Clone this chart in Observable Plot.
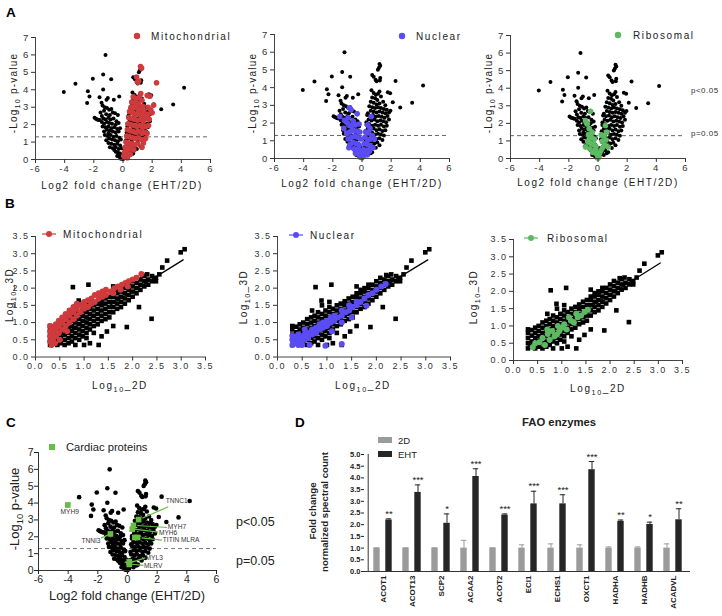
<!DOCTYPE html>
<html><head><meta charset="utf-8">
<script src="https://cdn.jsdelivr.net/npm/d3@7"></script>
<script src="https://cdn.jsdelivr.net/npm/@observablehq/plot@0.6"></script>
<style>
html,body{margin:0;padding:0;background:#fff;}
#fig{position:relative;width:722px;height:616px;overflow:hidden;background:#fff;}
#overlay{position:absolute;left:0;top:0;pointer-events:none;}
</style></head><body><div id="fig"></div>
<script>
// ---------------- DATA ----------------
// Volcano: [log2 fold change (EHT/2D), -log10 p-value] for all proteins (black)
const volcanoAll = [
 [-1.20,6.00],[-4.06,3.87],[-3.26,4.35],[-2.07,4.63],[-1.36,4.88],[-0.81,4.61],[-1.36,4.02],[-2.41,3.91],[-2.30,3.62],[-2.46,3.24],[-1.61,3.57],[-1.47,3.26],[-1.13,3.43],[-1.04,3.53],[-0.63,3.43],[-0.26,3.62],[-1.95,2.39],[-1.86,2.34],[-1.77,2.30],[-1.68,2.27],[-1.59,2.26],[-1.54,2.69],
 [1.20,5.33],[1.25,5.24],[1.16,5.12],[1.09,5.01],[0.70,4.72],[0.80,4.62],[0.93,4.44],[1.00,4.36],[1.25,4.54],[1.22,4.40],[2.30,4.38],[4.19,4.12],[1.77,3.74],[1.93,3.68],[2.11,3.17],[2.62,2.88],[3.44,3.15],[1.20,3.78],
 [-1.40,3.10],[-1.25,3.00],[-1.10,2.95],[-0.95,2.85],[-0.80,2.90],[-1.30,2.80],[-0.70,2.70],[-1.15,2.60],[-0.55,2.65],[-0.90,2.55],[-1.45,2.50],[-0.35,2.55],
 [-1.35,2.35],[-1.20,2.30],[-1.00,2.40],[-0.85,2.30],[-0.65,2.35],[-0.45,2.20],[-1.10,2.15],[-0.95,2.10],[-0.75,2.05],[-0.50,2.00],[-0.30,2.10],[-1.30,2.05],[-1.45,2.15],
 [-1.40,1.90],[-1.20,1.85],[-1.00,1.90],[-0.80,1.80],[-0.60,1.85],[-0.40,1.75],[-0.20,1.80],[-1.10,1.70],[-0.90,1.65],[-0.70,1.60],[-0.50,1.55],[-0.30,1.60],[-1.30,1.60],[-1.00,1.50],
 [-1.25,1.40],[-1.05,1.35],[-0.85,1.40],[-0.65,1.30],[-0.45,1.35],[-0.25,1.25],[-0.95,1.20],[-0.75,1.15],[-0.55,1.10],[-0.35,1.05],[-1.15,1.10],[-0.15,1.15],
 [-1.00,0.95],[-0.80,0.90],[-0.60,0.85],[-0.40,0.90],[-0.20,0.80],[-0.90,0.70],[-0.70,0.65],[-0.50,0.70],[-0.30,0.60],[-0.10,0.65],[-0.60,0.55],
 [-0.50,0.45],[-0.35,0.40],[-0.20,0.35],[-0.10,0.25],[-0.40,0.20],[-0.25,0.15],[-0.05,0.10],[-0.15,0.05],[0.00,0.02],[-0.30,0.30],
 [0.65,3.85],[0.80,3.70],[0.95,3.60],[1.10,3.65],[0.70,3.45],[0.90,3.40],[1.05,3.30],[1.30,3.50],[0.60,3.20],[0.80,3.15],[1.20,3.10],[1.45,3.20],[1.00,3.05],[1.60,3.00],
 [0.50,2.95],[0.70,2.90],[0.90,2.85],[1.10,2.90],[1.30,2.85],[1.50,2.80],[1.70,2.75],[0.60,2.70],[0.80,2.65],[1.00,2.60],[1.20,2.65],[1.40,2.60],[1.60,2.55],[1.85,2.60],[0.40,2.55],[1.95,2.70],
 [0.35,2.45],[0.55,2.40],[0.75,2.45],[0.95,2.35],[1.15,2.40],[1.35,2.35],[1.55,2.30],[1.75,2.40],[0.45,2.20],[0.65,2.15],[0.85,2.20],[1.05,2.10],[1.25,2.15],[1.45,2.10],[1.65,2.05],[1.85,2.20],[0.30,2.05],
 [0.30,1.90],[0.50,1.95],[0.70,1.85],[0.90,1.90],[1.10,1.85],[1.30,1.90],[1.50,1.80],[1.70,1.85],[0.40,1.70],[0.60,1.65],[0.80,1.70],[1.00,1.60],[1.20,1.65],[1.40,1.55],[1.60,1.60],[0.25,1.55],
 [0.30,1.45],[0.50,1.40],[0.70,1.45],[0.90,1.35],[1.10,1.40],[1.30,1.35],[1.50,1.30],[0.40,1.20],[0.60,1.15],[0.80,1.20],[1.00,1.10],[1.20,1.15],[0.20,1.10],[1.40,1.05],
 [0.25,0.95],[0.45,0.90],[0.65,0.95],[0.85,0.85],[1.05,0.90],[0.35,0.70],[0.55,0.65],[0.75,0.70],[0.95,0.60],[0.15,0.60],[1.20,0.75],
 [0.10,0.45],[0.30,0.40],[0.50,0.45],[0.70,0.35],[0.20,0.25],[0.40,0.20],[0.10,0.10],[0.60,0.30],[0.05,0.30]
];
const volcanoMito = [
 [1.20,5.33],[1.27,5.24],[0.93,4.73],[1.00,4.44],[1.08,4.50],[2.30,4.40],[1.22,3.78],[1.66,3.67],[1.84,3.63],[2.10,3.11],[2.00,2.68],[1.43,2.77],
 [0.70,3.60],[0.90,3.50],[1.10,3.55],[0.60,3.30],[0.85,3.25],[1.05,3.20],[1.30,3.40],[0.55,3.00],[0.75,3.00],[0.95,2.95],[1.15,2.90],[1.35,3.05],
 [0.45,2.75],[0.65,2.70],[0.85,2.60],[1.05,2.65],[1.25,2.55],[1.50,2.50],[0.40,2.40],[0.60,2.35],[0.80,2.30],[1.00,2.25],[1.20,2.30],[1.40,2.20],[1.60,2.35],
 [0.35,2.05],[0.55,2.00],[0.75,1.95],[0.95,1.90],[1.15,1.95],[1.35,1.85],[1.55,1.90],[0.30,1.70],[0.50,1.65],[0.70,1.60],[0.90,1.55],[1.10,1.60],[1.30,1.50],[1.50,1.55],
 [0.25,1.35],[0.45,1.30],[0.65,1.25],[0.85,1.20],[1.05,1.25],[1.25,1.15],[0.20,1.00],[0.40,0.95],[0.60,0.90],[0.80,0.85],[1.00,0.90],
 [0.15,0.70],[0.35,0.65],[0.55,0.60],[0.75,0.55],[0.10,0.40],[0.30,0.35],[0.50,0.30],[0.15,0.15],[0.30,0.10],[0.05,0.20],
 [1.70,2.60],[1.80,2.30],[1.75,1.95],[1.65,1.50],[1.55,1.20],[1.40,0.95],[1.30,0.70],[1.72,3.00],[1.90,2.85]
];
const volcanoNuclear = [
 [-0.86,2.86],[-0.75,2.75],[-1.52,2.37],[-0.33,2.52],[0.63,2.37],[-1.20,2.15],[-1.25,1.70],[-1.00,2.00],[-0.80,1.85],[-0.60,2.10],[-0.45,1.90],[-0.20,1.95],[0.40,1.90],[0.55,1.70],
 [-1.05,1.40],[-0.85,1.50],[-0.65,1.60],[-0.40,1.55],[-0.15,1.50],[0.25,1.50],[0.45,1.45],[0.70,1.30],[-0.95,1.10],[-0.70,1.20],[-0.50,1.25],[-0.30,1.20],[-0.10,1.10],[0.20,1.20],[0.40,1.05],[0.60,1.10],
 [-0.80,0.80],[-0.60,0.90],[-0.40,0.85],[-0.20,0.75],[0.15,0.85],[0.35,0.80],[0.55,0.70],[0.75,0.60],[-0.90,0.60],[-0.55,0.55],[-0.30,0.50],[-0.10,0.45],[0.10,0.50],[0.30,0.45],[0.50,0.40],
 [-0.45,0.30],[-0.25,0.25],[-0.05,0.20],[0.15,0.25],[0.35,0.20],[-0.15,0.10],[0.00,0.05],[0.08,0.12],[-0.60,1.95],[-0.95,2.30],[0.85,1.10]
];
const volcanoRibo = [
 [-0.51,2.69],[-0.86,2.16],[-0.74,1.97],[-0.80,2.05],[0.51,1.88],[0.22,1.35],[-0.60,1.70],[-0.40,1.50],[-0.65,1.35],[-0.45,1.20],[-0.25,1.10],[-0.70,0.95],[-0.50,0.85],[-0.30,0.80],
 [-0.85,0.65],[-0.55,0.55],[-0.20,0.50],[-0.35,0.35],[-0.10,0.25],[0.05,0.10],[0.00,0.02],[0.10,0.30],[0.30,0.60],[0.45,0.75],[0.30,1.00],[0.55,1.05],[0.40,1.30],[0.60,1.50],[0.20,0.45],[-0.15,0.70],[-0.60,1.10],[0.70,0.65]
];
// Scatter: [log10 2D, log10 3D]
const scatterAll = [
 [0.30,0.35],[0.30,0.50],[0.30,0.65],[0.30,0.80],[0.30,0.90],[0.38,0.40],[0.38,0.55],[0.38,0.72],[0.38,0.88],[0.45,0.35],[0.45,0.50],[0.45,0.65],[0.45,0.80],[0.45,0.95],[0.52,0.40],[0.52,0.55],[0.52,0.70],[0.52,0.85],[0.52,1.00],[0.60,0.35],[0.60,0.50],[0.60,0.65],[0.60,0.80],[0.60,0.95],[0.60,1.10],
 [0.68,0.40],[0.68,0.55],[0.68,0.70],[0.68,0.85],[0.68,1.00],[0.68,1.15],[0.75,0.45],[0.75,0.60],[0.75,0.75],[0.75,0.90],[0.75,1.05],[0.75,1.20],[0.82,0.35],[0.82,0.55],[0.82,0.70],[0.82,0.85],[0.82,1.00],[0.82,1.15],[0.82,1.30],[0.90,0.50],[0.90,0.65],[0.90,0.80],[0.90,0.95],[0.90,1.10],[0.90,1.25],[0.97,0.60],[0.97,0.75],[0.97,0.90],[0.97,1.05],[0.97,1.20],[0.97,1.35],
 [1.05,0.55],[1.05,0.70],[1.05,0.85],[1.05,1.00],[1.05,1.15],[1.05,1.30],[1.05,1.45],[1.12,0.40],[1.12,0.80],[1.12,0.95],[1.12,1.10],[1.12,1.25],[1.12,1.40],[1.20,0.70],[1.20,0.90],[1.20,1.05],[1.20,1.20],[1.20,1.35],[1.20,1.50],[1.28,0.95],[1.28,1.10],[1.28,1.25],[1.28,1.40],[1.28,1.55],[1.36,0.60],[1.36,1.05],[1.36,1.20],[1.36,1.35],[1.36,1.50],[1.36,1.62],[1.44,1.10],[1.44,1.25],[1.44,1.40],[1.44,1.55],[1.44,1.70],
 [1.52,1.15],[1.52,1.30],[1.52,1.45],[1.52,1.60],[1.52,1.75],[1.60,0.90],[1.60,1.30],[1.60,1.45],[1.60,1.60],[1.60,1.75],[1.60,1.85],[1.68,1.40],[1.68,1.55],[1.68,1.70],[1.68,1.85],[1.68,1.95],[1.76,1.45],[1.76,1.60],[1.76,1.75],[1.76,1.90],[1.76,2.00],[1.84,1.55],[1.84,1.70],[1.84,1.85],[1.84,2.00],[1.84,2.10],[1.92,1.65],[1.92,1.80],[1.92,1.95],[1.92,2.10],
 [2.00,1.75],[2.00,1.90],[2.00,2.05],[2.00,2.20],[2.08,1.85],[2.08,2.00],[2.08,2.15],[2.08,2.30],[2.16,1.95],[2.16,2.10],[2.16,2.25],[2.24,2.05],[2.24,2.20],[2.24,2.35],[2.32,2.10],[2.32,2.25],[2.40,2.20],[2.40,2.35],[2.48,2.30],[2.48,2.20],
 [2.55,2.40],[2.61,2.60],[2.71,2.80],[2.99,3.04],[3.07,3.13],[2.30,2.40],[2.20,2.38],
 [0.77,2.03],[1.09,2.10],[0.89,1.64],[1.88,0.87],[2.39,1.11],[2.13,1.45],[1.47,0.74],[1.30,0.35],[1.00,0.35],[0.70,1.35],[1.05,1.60],[1.60,2.05],[0.90,1.50]
];
const scatterMito = [
 [0.30,0.45],[0.30,0.60],[0.30,0.75],[0.30,0.90],[0.36,0.50],[0.36,0.70],[0.36,0.85],[0.42,0.60],[0.42,0.80],[0.42,0.95],[0.48,0.70],[0.48,0.90],[0.48,1.05],[0.55,0.80],[0.55,1.00],[0.55,1.15],[0.62,0.90],[0.62,1.10],[0.62,1.25],
 [0.70,1.00],[0.70,1.20],[0.70,1.35],[0.78,1.10],[0.78,1.30],[0.78,1.45],[0.85,1.20],[0.85,1.40],[0.85,1.55],[0.92,1.30],[0.92,1.50],[1.00,1.40],[1.00,1.60],[1.00,1.55],
 [1.08,1.45],[1.08,1.65],[1.15,1.55],[1.15,1.70],[1.22,1.60],[1.22,1.80],[1.30,1.70],[1.30,1.85],[1.38,1.75],[1.38,1.90],[1.45,1.80],[1.45,1.95],
 [1.55,1.90],[1.62,2.00],[1.70,2.05],[1.78,2.10],[1.85,2.15],[1.92,2.20],[2.00,2.25],[2.08,2.30],[2.18,2.41],[1.60,1.85],[1.75,1.95],[1.90,2.05],
 [0.50,0.50],[0.40,0.40],[0.65,0.75],[0.33,0.35]
];
const scatterNuclear = [
 [0.30,0.35],[0.30,0.50],[0.30,0.62],[0.36,0.40],[0.36,0.55],[0.42,0.35],[0.42,0.50],[0.42,0.65],[0.48,0.45],[0.48,0.60],[0.55,0.50],[0.55,0.65],[0.55,0.80],[0.62,0.55],[0.62,0.70],[0.70,0.65],[0.70,0.80],[0.78,0.70],[0.78,0.85],[0.85,0.80],[0.85,0.95],[0.92,0.85],[0.92,1.00],[1.00,0.90],[1.00,1.05],
 [1.08,1.00],[1.08,1.15],[1.15,1.05],[1.15,1.20],[1.22,1.15],[1.30,1.20],[1.30,1.35],[1.38,1.30],[1.45,1.35],[1.45,1.50],[1.52,1.45],[1.60,1.50],[1.60,1.60],[1.68,1.60],[1.76,1.70],[1.84,1.80],[1.92,1.85],[2.00,1.95],[2.10,2.05],[2.19,2.12],
 [1.50,1.15],[0.65,0.35],[0.97,0.33],[1.10,0.75],[1.30,1.00],[0.50,0.35],[1.30,0.38],[1.80,1.49]
];
const scatterRibo = [
 [0.40,0.38],[0.45,0.50],[0.54,0.53],[0.60,0.65],[0.71,0.77],[0.75,0.60],[0.80,0.85],[0.85,0.70],[0.92,1.00],[0.95,0.85],[1.00,0.95],[1.05,1.05],[1.10,0.90],[1.19,1.15],[1.25,1.10],[1.33,1.25],[1.40,1.30],[1.47,1.40],[1.54,1.47],[0.65,0.45],[0.70,0.90],[1.15,1.25],[0.90,0.75],[1.30,1.35]
];
const fitLine = [[0.30,0.42],[3.04,2.82]];
// Panel C: cardiac proteins
const cardiacPts = [
 {gene:"MYH9",x:-4.02,y:3.89},{gene:"TNNC1",x:0.75,y:3.02},{gene:"MYH7",x:0.40,y:2.67},{gene:"MYH6",x:0.32,y:2.45},
 {gene:"TITIN",x:0.50,y:1.96},{gene:"MLRA",x:0.68,y:1.96},{gene:"TNNI3",x:-1.15,y:2.17},{gene:"MYL3",x:0.12,y:0.52},{gene:"MLRV",x:0.12,y:0.36}
];
const cardiacLabelsCenter = [{text:"MYH9",x:-3.9,y:3.5}];
const cardiacLabelsLeft = [{text:"TNNC1",x:2.58,y:4.12},{text:"MYH7",x:2.72,y:2.6},{text:"MYH6",x:2.12,y:2.22},{text:"TITIN MLRA",x:2.38,y:1.8},{text:"MYL3",x:1.22,y:0.75},{text:"MLRV",x:1.12,y:0.28}];
const cardiacLabelsRight = [{text:"TNNI3",x:-1.82,y:1.78}];
const cardiacLinks = [
 {x1:0.99,y1:3.10,x2:2.75,y2:3.78},{x1:0.65,y1:2.67,x2:2.67,y2:2.55},{x1:0.43,y1:2.45,x2:2.08,y2:2.28},
 {x1:0.95,y1:1.94,x2:2.32,y2:1.80},{x1:-1.78,y1:1.92,x2:-1.15,y2:2.17},{x1:0.30,y1:0.50,x2:1.20,y2:0.75},{x1:0.30,y1:0.37,x2:1.08,y2:0.30}
];
// Panel D: FAO enzymes
const faoEnzymes = ["ACOT1","ACOT13","SCP2","ACAA2","ACOT2","ECI1","ECHS1","OXCT1","HADHA","HADHB","ACADVL"];
const fao2DMean = [1,1,1,1,1,1,1,1,1,1,1];
const fao2DErr  = [0.01,0.01,0.01,0.33,0.01,0.14,0.18,0.14,0.05,0.05,0.18];
const faoEHTMean = [2.20,3.38,2.06,4.06,2.41,2.89,2.89,4.35,2.14,2.01,2.21];
const faoEHTErr  = [0.05,0.32,0.40,0.33,0.05,0.54,0.39,0.35,0.06,0.10,0.47];
const faoStars = ["**","***","*","***","***","***","***","***","**","*","**"];
// ticks
const volcanoXTicks = [-6,-4,-2,0,2,4,6];
const volcanoYTicks = [0,1,2,3,4,5,6,7];
const scatterTicks = [0,0.5,1,1.5,2,2.5,3,3.5];
const faoYTicks = [0,0.5,1,1.5,2,2.5,3,3.5,4,4.5,5];

// ---------------- DRAW ----------------
const FONT = '"Liberation Sans", Arial, Helvetica, sans-serif';
const RED = "#cf3a3c", BLUE = "#5a4cf2", GREEN = "#5dba62", GREENC = "#67bd45", GRAY2D = "#9b9b9b", DARK = "#262626";
const fig = document.getElementById("fig");
function place(el, left, top) {
  el.style.position = "absolute"; el.style.left = left + "px"; el.style.top = top + "px";
  fig.appendChild(el);
}
const X = d => d[0], Y = d => d[1];

function volcano(g, overlay, color) {
  const el = Plot.plot({
    width: g.width, height: g.height, marginLeft: g.ml, marginRight: g.mr, marginTop: g.mt, marginBottom: g.mb,
    x: {domain: [-6, 6]}, y: {domain: [0, 7]},
    style: `font-family:${FONT};font-size:9.5px;letter-spacing:1.2px;color:#333;background:transparent;overflow:visible;`,
    marks: [
      Plot.ruleY([1.3], {stroke: "#666", strokeDasharray: "4,3", strokeWidth: 1}),
      Plot.dot(volcanoAll, {x: X, y: Y, r: 2, fill: "#000"}),
      Plot.dot(overlay, {x: X, y: Y, r: 2.8, fill: color}),
      Plot.ruleX([-6], {stroke: "#444"}),
      Plot.ruleY([0], {stroke: "#444"}),
      Plot.axisX({ticks: volcanoXTicks, tickFormat: d => String(d), tickSize: 4, tickPadding: 2, label: null}),
      Plot.axisY({ticks: volcanoYTicks, tickFormat: d => String(d), tickSize: 4, tickPadding: 2, label: null})
    ]
  });
  place(el, g.left, g.top);
}
volcano({left: 0, top: 0, width: 240, height: 180, ml: 35, mr: 30, mt: 37, mb: 21}, volcanoMito, RED);
volcano({left: 240, top: 0, width: 240, height: 180, ml: 34, mr: 31, mt: 34, mb: 22}, volcanoNuclear, BLUE);
volcano({left: 470, top: 0, width: 252, height: 180, ml: 40, mr: 37, mt: 35, mb: 22}, volcanoRibo, GREEN);

function scatter(g, overlay, color) {
  const el = Plot.plot({
    width: g.width, height: g.height, marginLeft: g.ml, marginRight: g.mr, marginTop: g.mt, marginBottom: g.mb,
    x: {domain: [0, 3.5]}, y: {domain: [0, 3.5]},
    style: `font-family:${FONT};font-size:9px;letter-spacing:1.5px;color:#333;background:transparent;overflow:visible;`,
    marks: [
      Plot.dot(scatterAll, {x: X, y: Y, symbol: "square", r: 2.6, fill: "#000"}),
      Plot.line(fitLine, {x: X, y: Y, stroke: "#000", strokeWidth: 1.3}),
      Plot.dot(overlay, {x: X, y: Y, r: 3, fill: color}),
      Plot.ruleX([0], {stroke: "#444"}),
      Plot.ruleY([0], {stroke: "#444"}),
      Plot.axisX({ticks: scatterTicks, tickFormat: d3.format(".1f"), tickSize: 4, tickPadding: 2, label: null}),
      Plot.axisY({ticks: scatterTicks, tickFormat: d3.format(".1f"), tickSize: 4, tickPadding: 2, label: null})
    ]
  });
  place(el, g.left, g.top);
}
scatter({left: 0, top: 220, width: 230, height: 160, ml: 35, mr: 25, mt: 16, mb: 23.5}, scatterMito, RED);
scatter({left: 240, top: 220, width: 230, height: 160, ml: 37, mr: 20, mt: 16, mb: 23.5}, scatterNuclear, BLUE);
scatter({left: 470, top: 220, width: 252, height: 160, ml: 43, mr: 40, mt: 19, mb: 20}, scatterRibo, GREEN);

// Panel C
{
  const el = Plot.plot({
    width: 240, height: 200, marginLeft: 38, marginRight: 24, marginTop: 52, marginBottom: 30,
    x: {domain: [-6, 6]}, y: {domain: [0, 7]},
    style: `font-family:${FONT};font-size:10.5px;color:#222;background:transparent;overflow:visible;`,
    marks: [
      Plot.ruleY([1.3], {stroke: "#777", strokeDasharray: "4,3"}),
      Plot.dot(volcanoAll, {x: X, y: Y, r: 2.3, fill: "#000"}),
      Plot.link(cardiacLinks, {x1: "x1", y1: "y1", x2: "x2", y2: "y2", stroke: GREENC, strokeWidth: 1.2}),
      Plot.dot(cardiacPts, {x: "x", y: "y", symbol: "square", r: 3.2, fill: GREENC}),
      Plot.text(cardiacLabelsCenter, {x: "x", y: "y", text: "text", textAnchor: "middle", fontSize: 6.6, fill: "#333"}),
      Plot.text(cardiacLabelsLeft, {x: "x", y: "y", text: "text", textAnchor: "start", fontSize: 6.6, fill: "#333"}),
      Plot.text(cardiacLabelsRight, {x: "x", y: "y", text: "text", textAnchor: "end", fontSize: 6.6, fill: "#333"}),
      Plot.ruleX([-6], {stroke: "#333"}),
      Plot.ruleY([0], {stroke: "#333"}),
      Plot.axisX({ticks: volcanoXTicks, tickFormat: d => String(d), tickSize: 4, tickPadding: 1, label: null}),
      Plot.axisY({ticks: volcanoYTicks, tickFormat: d => String(d), tickSize: 4, tickPadding: 1, label: null})
    ]
  });
  place(el, 0, 400);
}

// Panel D
{
  const rows = faoEnzymes.map((g, i) => ({gene: g, m2: fao2DMean[i], e2: fao2DErr[i], m3: faoEHTMean[i], e3: faoEHTErr[i], star: faoStars[i]}));
  const inset = 11.3, capInset = 11.8;
  const el = Plot.plot({
    width: 400, height: 186, marginLeft: 64, marginRight: 10, marginTop: 24, marginBottom: 45,
    x: {type: "band", domain: faoEnzymes, paddingInner: 0, paddingOuter: 0},
    y: {domain: [0, 5]},
    style: `font-family:${FONT};font-size:7.5px;font-weight:bold;color:#222;background:transparent;overflow:visible;`,
    marks: [
      Plot.ruleX(rows, {x: "gene", y1: "m2", y2: d => d.m2 + d.e2, dx: -6, stroke: GRAY2D}),
      Plot.tickY(rows, {x: "gene", y: d => d.m2 + d.e2, dx: -6, stroke: GRAY2D, insetLeft: capInset, insetRight: capInset}),
      Plot.barY(rows, {x: "gene", y: "m2", dx: -6, fill: GRAY2D, insetLeft: inset, insetRight: inset}),
      Plot.ruleX(rows, {x: "gene", y1: "m3", y2: d => d.m3 + d.e3, dx: 6, stroke: DARK}),
      Plot.tickY(rows, {x: "gene", y: d => d.m3 + d.e3, dx: 6, stroke: DARK, insetLeft: capInset, insetRight: capInset}),
      Plot.barY(rows, {x: "gene", y: "m3", dx: 6, fill: DARK, insetLeft: inset, insetRight: inset}),
      Plot.text(rows, {x: "gene", y: d => d.m3 + d.e3, text: "star", dx: 6, dy: -2, lineAnchor: "bottom", fontSize: 9.5, fontWeight: "normal"}),
      Plot.ruleY([0], {stroke: "#333"}),
      Plot.ruleX([faoEnzymes[0]], {dx: -14.8, stroke: "#333"}),
      Plot.axisY({ticks: faoYTicks, tickFormat: d3.format(".1f"), tickSize: 3, tickPadding: 1, label: null}),
      Plot.axisX({tickRotate: -90, tickSize: 0, tickPadding: 4, label: null, fontSize: 8})
    ]
  });
  place(el, 300, 430);
}

// ---------------- TEXT OVERLAY ----------------
const ov = d3.select(fig).append("svg").attr("id", "overlay").attr("width", 722).attr("height", 616)
  .attr("font-family", FONT);
function addText(x, y, parts, o = {}) {
  const size = o.size ?? 10;
  const t = ov.append("text").attr("x", x).attr("y", y)
    .attr("font-size", size).attr("font-weight", o.weight ?? "normal")
    .attr("text-anchor", o.anchor ?? "start").attr("letter-spacing", o.ls ?? 0)
    .attr("fill", o.fill ?? "#222");
  if (o.rotate) t.attr("transform", `rotate(${o.rotate} ${x} ${y})`);
  if (typeof parts === "string") parts = [[parts, false]];
  let shifted = false;
  for (const [s, sub] of parts) {
    const ts = t.append("tspan").text(s);
    if (sub) { ts.attr("font-size", size * 0.72).attr("dy", size * 0.28); shifted = true; }
    else if (shifted) { ts.attr("dy", -size * 0.28); shifted = false; }
  }
}
const logP = [["-Log", false], ["10", true], [" p-value", false]];
const log3D = [["Log", false], ["10", true], ["_3D", false]];
const log2D = [["Log", false], ["10", true], ["_2D", false]];
const fcLabel = "Log2 fold change (EHT/2D)";

// Panel letters
addText(6, 17, "A", {size: 13.5, weight: "bold", fill: "#000"});
addText(5, 208, "B", {size: 13.5, weight: "bold", fill: "#000"});
addText(6, 427, "C", {size: 13.5, weight: "bold", fill: "#000"});
addText(295, 427, "D", {size: 13.5, weight: "bold", fill: "#000"});

// A
addText(17, 93, logP, {size: 10, ls: 1.2, anchor: "middle", rotate: -90});
addText(256, 93, logP, {size: 10, ls: 1.2, anchor: "middle", rotate: -90});
addText(492, 93, logP, {size: 10, ls: 1.2, anchor: "middle", rotate: -90});
addText(122, 189, fcLabel, {size: 10, ls: 1.6, anchor: "middle"});
addText(362, 187, fcLabel, {size: 10, ls: 1.6, anchor: "middle"});
addText(598, 186, fcLabel, {size: 10, ls: 1.6, anchor: "middle"});
ov.append("circle").attr("cx", 137).attr("cy", 36).attr("r", 3.2).attr("fill", RED);
addText(151, 40, "Mitochondrial", {size: 10, ls: 1.6});
ov.append("circle").attr("cx", 402).attr("cy", 36).attr("r", 3.2).attr("fill", BLUE);
addText(416, 40, "Nuclear", {size: 10, ls: 1.6});
ov.append("circle").attr("cx", 618).attr("cy", 35).attr("r", 3.2).attr("fill", GREEN);
addText(633, 39, "Ribosomal", {size: 10, ls: 1.6});
addText(691, 93, "p<0.05", {size: 8, ls: 0.5, fill: "#333"});
addText(691, 136, "p=0.05", {size: 8, ls: 0.5, fill: "#333"});

// B
addText(13, 295, log3D, {size: 10, ls: 1.4, anchor: "middle", rotate: -90});
addText(247, 297, log3D, {size: 10, ls: 1.4, anchor: "middle", rotate: -90});
addText(477, 297, log3D, {size: 10, ls: 1.4, anchor: "middle", rotate: -90});
addText(120, 389, log2D, {size: 10, ls: 1.6, anchor: "middle"});
addText(363, 389, log2D, {size: 10, ls: 1.6, anchor: "middle"});
addText(598, 392, log2D, {size: 10, ls: 1.6, anchor: "middle"});
function lineLegend(x1, x2, y, color, label, tx) {
  ov.append("line").attr("x1", x1).attr("x2", x2).attr("y1", y).attr("y2", y).attr("stroke", color).attr("stroke-width", 1.2);
  ov.append("circle").attr("cx", (x1 + x2) / 2).attr("cy", y).attr("r", 3).attr("fill", color);
  addText(tx, y + 4, label, {size: 10, ls: 1.6});
}
lineLegend(42, 56, 234, RED, "Mitochondrial", 63);
lineLegend(289, 303, 235, BLUE, "Nuclear", 310);
lineLegend(524, 538, 238, GREEN, "Ribosomal", 547);

// C
ov.append("rect").attr("x", 49).attr("y", 444).attr("width", 6).attr("height", 6).attr("fill", GREENC);
addText(66, 451, "Cardiac proteins", {size: 11.2});
addText(19, 509, logP, {size: 13, anchor: "middle", rotate: -90});
addText(127, 600, fcLabel, {size: 12.8, anchor: "middle"});
addText(236, 526, "p<0.05", {size: 12.5});
addText(236, 565, "p=0.05", {size: 12.5});

// D
addText(522, 426, "FAO enzymes", {size: 11.3, weight: "bold"});
ov.append("rect").attr("x", 378).attr("y", 437).attr("width", 14).attr("height", 6).attr("fill", GRAY2D);
addText(398, 444, "2D", {size: 9.5});
ov.append("rect").attr("x", 378).attr("y", 451).attr("width", 14).attr("height", 6).attr("fill", DARK);
addText(398, 458, "EHT", {size: 9.5});
addText(316, 511, "Fold change", {size: 9.7, weight: "bold", anchor: "middle", rotate: -90});
addText(328, 512, "normalized spectral count", {size: 9.7, weight: "bold", anchor: "middle", rotate: -90});
d3.select("#overlay").raise();
</script></body></html>
